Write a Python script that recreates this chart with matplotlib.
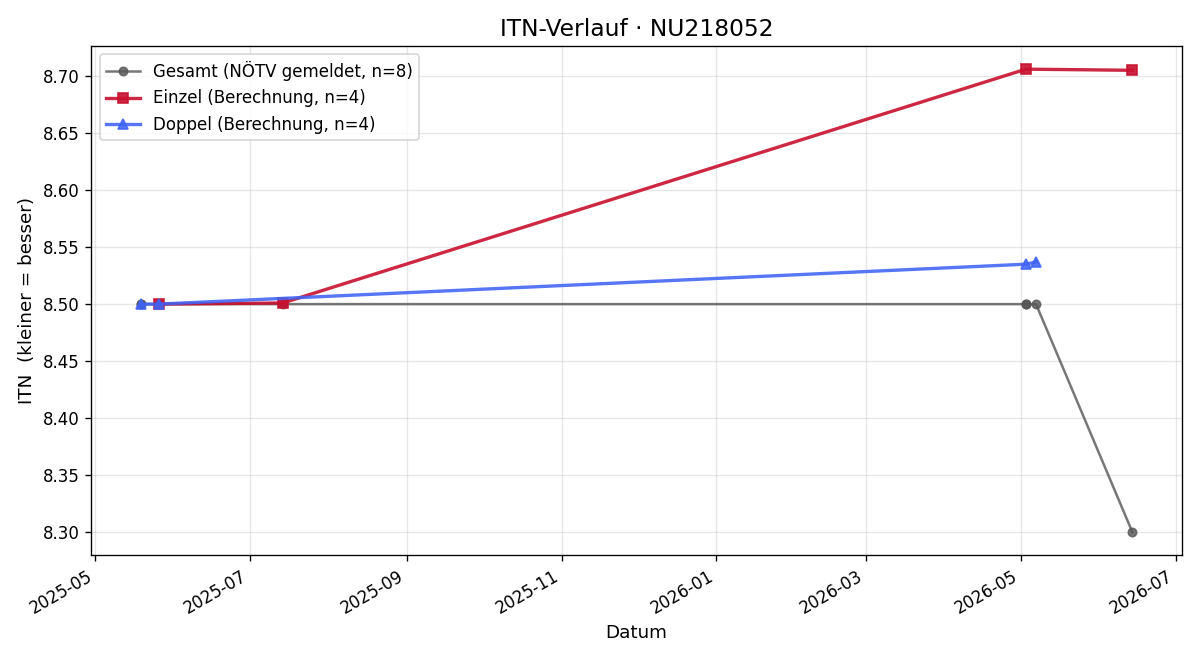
import matplotlib
matplotlib.use("Agg")
import matplotlib.pyplot as plt
import matplotlib.dates as mdates
import pandas as pd

# Gesamt (NÖTV gemeldet)
gesamt_dates = ["2025-05-19", "2025-05-19", "2025-05-26", "2025-07-14",
                "2026-05-03", "2026-05-03", "2026-05-07", "2026-06-14"]
gesamt_itn = [8.50, 8.50, 8.50, 8.50, 8.50, 8.50, 8.50, 8.30]

# Einzel (Berechnung)
einzel_dates = ["2025-05-26", "2025-07-14", "2026-05-03", "2026-06-14"]
einzel_itn = [8.500, 8.501, 8.706, 8.705]

# Doppel (Berechnung)
doppel_dates = ["2025-05-19", "2025-05-26", "2026-05-03", "2026-05-07"]
doppel_itn = [8.500, 8.500, 8.535, 8.537]

fig, ax = plt.subplots(figsize=(10, 5.5), dpi=120)

ax.plot(pd.to_datetime(gesamt_dates), gesamt_itn, marker="o", markersize=5,
        linewidth=1.5, color="#555555", alpha=0.8,
        label="Gesamt (NÖTV gemeldet, n=8)")
ax.plot(pd.to_datetime(einzel_dates), einzel_itn, marker="s", markersize=6,
        linewidth=2, color="#c8102e", alpha=0.9,
        label="Einzel (Berechnung, n=4)")
ax.plot(pd.to_datetime(doppel_dates), doppel_itn, marker="^", markersize=6,
        linewidth=2, color="#3f63f5", alpha=0.88,
        label="Doppel (Berechnung, n=4)")

ax.set_title("ITN-Verlauf · NU218052", fontsize=14)
ax.set_xlabel("Datum", fontsize=11)
ax.set_ylabel("ITN  (kleiner = besser)", fontsize=11)
ax.xaxis.set_major_formatter(mdates.DateFormatter("%Y-%m"))
ax.grid(True, alpha=0.3)
ax.legend(loc="upper left")
fig.autofmt_xdate()

plt.tight_layout()
plt.savefig("out.png")
